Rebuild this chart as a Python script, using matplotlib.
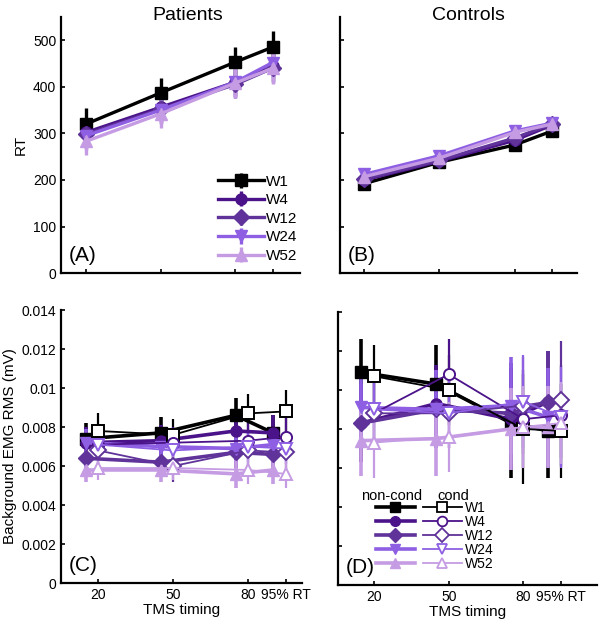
import numpy as np
import matplotlib
matplotlib.use('Agg')
import matplotlib.pyplot as plt
from matplotlib.lines import Line2D

plt.rcParams['font.family'] = ['Liberation Sans', 'DejaVu Sans']

# ---- data ----
timing = [20, 50, 80, 95]
timing_labels = ['20', '50', '80', '95% RT']
weeks = ['W1', 'W4', 'W12', 'W24', 'W52']
colors = ['#000000', '#4B1389', '#5F3399', '#8E5FE3', '#C59CE3']
filled_markers = ['s', 'o', 'D', 'v', '^']

# RT, patients
rt_pat = [[320, 387, 453, 485],
          [302, 356, 410, 445],
          [298, 352, 405, 440],
          [295, 350, 410, 452],
          [283, 342, 408, 440]]
rt_pat_err = [[35, 32, 32, 35],
              [30, 30, 30, 32],
              [30, 30, 30, 32],
              [30, 30, 32, 32],
              [30, 30, 32, 33]]

# RT, controls
rt_con = [[192, 238, 275, 305],
          [200, 240, 285, 318],
          [202, 242, 290, 320],
          [212, 252, 305, 322],
          [207, 247, 302, 320]]
rt_con_err = [[12, 10, 12, 12],
              [10, 10, 12, 12],
              [10, 10, 12, 12],
              [10, 10, 12, 12],
              [10, 10, 12, 12]]

# background EMG, patients (non-conditioned / conditioned)
emg_pat_nc = [[0.0074, 0.0077, 0.0086, 0.0077],
              [0.0072, 0.0073, 0.0078, 0.0077],
              [0.0064, 0.0062, 0.0067, 0.0066],
              [0.0072, 0.0070, 0.0069, 0.0071],
              [0.0058, 0.0058, 0.0056, 0.0058]]
emg_pat_nc_err = [[0.0008, 0.0008, 0.0009, 0.0009],
                  [0.0008, 0.0008, 0.0009, 0.0009],
                  [0.0007, 0.0007, 0.0008, 0.0008],
                  [0.0007, 0.0007, 0.0008, 0.0008],
                  [0.0006, 0.0006, 0.0007, 0.0007]]
emg_pat_c = [[0.0078, 0.0076, 0.0087, 0.0088],
             [0.0071, 0.0072, 0.0073, 0.0075],
             [0.0068, 0.0060, 0.0068, 0.0067],
             [0.0071, 0.0068, 0.0070, 0.0069],
             [0.0059, 0.0059, 0.0058, 0.0056]]
emg_pat_c_err = [[0.0009, 0.0008, 0.0010, 0.0011],
                 [0.0008, 0.0008, 0.0009, 0.0010],
                 [0.0008, 0.0008, 0.0009, 0.0009],
                 [0.0007, 0.0007, 0.0008, 0.0008],
                 [0.0006, 0.0006, 0.0007, 0.0007]]

# background EMG, controls (non-conditioned / conditioned)
emg_con_nc = [[0.0109, 0.0103, 0.0083, 0.0079],
              [0.0083, 0.0093, 0.0085, 0.0094],
              [0.0083, 0.0090, 0.0088, 0.0094],
              [0.0091, 0.0090, 0.0092, 0.0086],
              [0.0074, 0.0075, 0.0080, 0.0081]]
emg_con_nc_err = [[0.0017, 0.0020, 0.0028, 0.0024],
                  [0.0020, 0.0020, 0.0026, 0.0026],
                  [0.0020, 0.0020, 0.0026, 0.0026],
                  [0.0020, 0.0020, 0.0025, 0.0025],
                  [0.0018, 0.0019, 0.0021, 0.0021]]
emg_con_c = [[0.0107, 0.0100, 0.0080, 0.0079],
             [0.0088, 0.0108, 0.0085, 0.0087],
             [0.0088, 0.0088, 0.0092, 0.0095],
             [0.0090, 0.0088, 0.0094, 0.0086],
             [0.0073, 0.0076, 0.0081, 0.0083]]
emg_con_c_err = [[0.0016, 0.0018, 0.0028, 0.0024],
                 [0.0018, 0.0018, 0.0025, 0.0026],
                 [0.0018, 0.0018, 0.0025, 0.0030],
                 [0.0018, 0.0018, 0.0024, 0.0026],
                 [0.0018, 0.0018, 0.0021, 0.0021]]

nc_shift = -5   # non-conditioned points drawn slightly to the left

fig = plt.figure(figsize=(6, 6.25), dpi=100)
axA = fig.add_axes([0.102, 0.563, 0.398, 0.410])
axB = fig.add_axes([0.567, 0.563, 0.395, 0.410])
axC = fig.add_axes([0.102, 0.067, 0.401, 0.437])
axD = fig.add_axes([0.563, 0.064, 0.432, 0.437])


def style(ax):
    for s in ['top', 'right']:
        ax.spines[s].set_visible(False)
    for s in ['left', 'bottom']:
        ax.spines[s].set_linewidth(1.6)
    ax.tick_params(direction='in', width=1.2, length=3, labelsize=10)


# ---- RT panels ----
for ax, vals, errs in [(axA, rt_pat, rt_pat_err), (axB, rt_con, rt_con_err)]:
    for i in range(5):
        ax.errorbar(timing, vals[i], yerr=errs[i], color=colors[i],
                    marker=filled_markers[i], markersize=8, lw=2.4,
                    elinewidth=2.4, capsize=0, label=weeks[i])
    ax.set_ylim(0, 550)
    ax.set_yticks(range(0, 501, 100))
    ax.set_xticks(timing)
    ax.set_xticklabels([])
    style(ax)
axA.set_xlim(10, 106)
axB.set_xlim(10.4, 105)
axB.set_yticklabels([])
axA.set_ylabel('RT', fontsize=11, labelpad=4)
axA.legend(loc='lower right', bbox_to_anchor=(1.02, 0.01), frameon=False,
           fontsize=11, handlelength=3.0, handletextpad=0.1,
           labelspacing=0.3, borderaxespad=0.1)

# ---- EMG panels ----
for ax, nc, nce, c, ce in [(axC, emg_pat_nc, emg_pat_nc_err, emg_pat_c, emg_pat_c_err),
                           (axD, emg_con_nc, emg_con_nc_err, emg_con_c, emg_con_c_err)]:
    for i in range(5):
        ax.errorbar(np.array(timing) + nc_shift, nc[i], yerr=nce[i], color=colors[i],
                    marker=filled_markers[i], markersize=8, lw=2.6,
                    elinewidth=2.6, capsize=0)
    for i in range(5):
        ax.errorbar(timing, c[i], yerr=ce[i], color=colors[i],
                    marker=filled_markers[i], markersize=8, mfc='white',
                    mec=colors[i], mew=1.4, lw=1.3, elinewidth=1.6, capsize=0)
    ax.set_ylim(0, 0.014)
    ax.set_yticks(np.arange(0, 0.0141, 0.002))
    ax.set_xticks(timing)
    ax.set_xticklabels(timing_labels)
    ax.set_xlabel('TMS timing', fontsize=11, labelpad=1)
    style(ax)
axC.set_xlim(5.2, 101.5)
axD.set_xlim(5.5, 109.5)
axC.set_yticklabels(['%g' % v for v in np.arange(0, 0.0141, 0.002).round(3)])
axD.set_yticklabels([])
axC.set_ylabel('Background EMG RMS (mV)', fontsize=11, labelpad=3)

h_nc = [Line2D([], [], color=colors[i], marker=filled_markers[i], markersize=7, lw=2.6)
        for i in range(5)]
h_c = [Line2D([], [], color=colors[i], marker=filled_markers[i], markersize=7,
              mfc='white', mec=colors[i], mew=1.3, lw=1.3) for i in range(5)]
axD.legend(h_nc + h_c, [''] * 5 + weeks, ncol=2, loc='lower left',
           bbox_to_anchor=(0.125, 0.03), frameon=False, fontsize=10,
           handlelength=2.8, handletextpad=0.2, columnspacing=0.4,
           labelspacing=0.0, borderaxespad=0.0)
axD.text(0.09, 0.30, 'non-cond', transform=axD.transAxes, fontsize=10.5, va='bottom')
axD.text(0.385, 0.30, 'cond', transform=axD.transAxes, fontsize=10.5, va='bottom')

# ---- panel letters and column titles ----
for ax, lab in [(axA, '(A)'), (axB, '(B)'), (axC, '(C)'), (axD, '(D)')]:
    ax.text(0.03, 0.03, lab, transform=ax.transAxes, fontsize=15, va='bottom')
fig.text(0.313, 0.975, 'Patients', fontsize=14, ha='center', va='center')
fig.text(0.78, 0.975, 'Controls', fontsize=14, ha='center', va='center')

fig.savefig('out.png', dpi=100)
